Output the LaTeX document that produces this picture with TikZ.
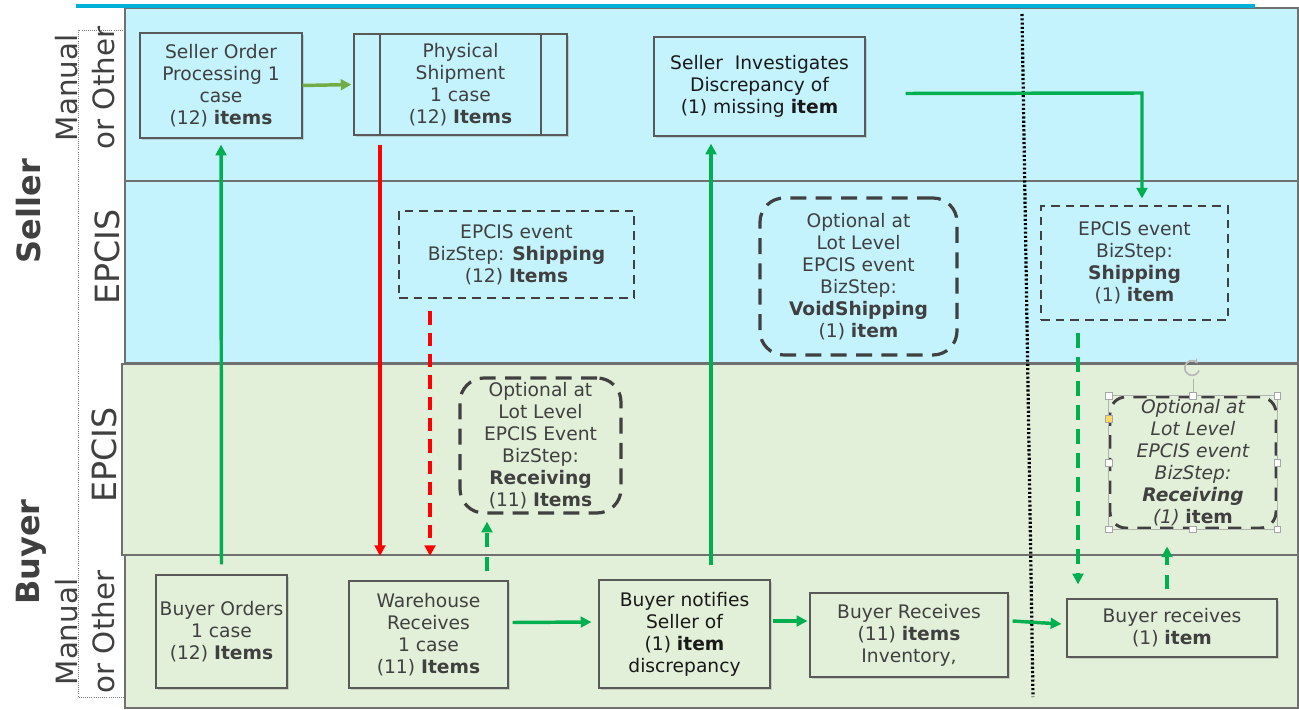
\documentclass[tikz,border=0pt]{standalone}
\usepackage{fontspec}
\setmainfont{DejaVu Sans}
\usetikzlibrary{arrows.meta,shadows}
\definecolor{sellbg}{RGB}{197,243,253}
\definecolor{buybg}{RGB}{227,240,217}
\definecolor{lanegray}{RGB}{112,112,112}
\definecolor{boxgray}{RGB}{89,89,89}
\definecolor{topline}{RGB}{0,176,216}
\definecolor{txt}{RGB}{64,64,64}
\definecolor{dtxt}{RGB}{25,25,25}
\definecolor{gr}{RGB}{0,176,80}
\definecolor{olivegr}{RGB}{112,173,71}
\definecolor{dashgray}{RGB}{64,64,64}
\definecolor{handleyellow}{RGB}{255,217,102}
\begin{document}
\begin{tikzpicture}[x=0.75pt,y=-0.75pt,
  font=\fontsize{14}{16.5}\selectfont,
  box/.style={draw=boxgray, line width=0.9pt, inner sep=0pt, align=center, text=txt,
    drop shadow={shadow xshift=1.5pt,shadow yshift=-1.5pt,opacity=0.3}},
  sbox/.style={box, fill=sellbg},
  bbox/.style={box, fill=buybg},
  dbox/.style={draw=dashgray, line width=2.2pt, dash pattern=on 6.5pt off 4.5pt, inner sep=0pt, align=center, text=txt},
  rbox/.style={dbox, rounded corners=18pt, line width=2.4pt, dash pattern=on 12pt off 7pt},
  rboxi/.style={dbox, rounded corners=12pt, line width=2.2pt, dash pattern=on 10pt off 7pt, font=\fontsize{14}{16.5}\selectfont\itshape},
  garrow/.style={draw=gr, line width=2.6pt, -{Triangle[length=8pt,width=8pt]}},
  oarrow/.style={draw=olivegr, line width=2.6pt, -{Triangle[length=8pt,width=8pt]}},
  gdash/.style={garrow, dash pattern=on 11pt off 7pt},
  rarrow/.style={draw=red, line width=2.6pt, -{Triangle[length=8pt,width=8pt]}},
  rdash/.style={rarrow, dash pattern=on 10pt off 6pt},
  lanelbl/.style={rotate=90, align=center, text=txt},
  handle/.style={draw=gray!70, fill=white, line width=0.5pt, minimum size=5pt, inner sep=0pt}
]
\useasboundingbox (0,0) rectangle (1299,710);
% lanes
\fill[sellbg] (125,8) rectangle (1298,363);
\draw[lanegray, line width=0.8pt] (125,8) rectangle (1298,181);
\draw[lanegray, line width=0.8pt] (125,181) rectangle (1298,363);
\fill[buybg] (122,364) rectangle (1298,555);
\draw[lanegray, line width=0.8pt] (122,364) rectangle (1298,555);
\fill[buybg] (125,555) rectangle (1298,708);
\draw[lanegray, line width=0.8pt] (125,555) rectangle (1298,708);
\draw[lanegray, line width=1.5pt] (125,708) -- (1298,708);
\draw[topline, line width=3pt] (76,6.5) -- (1255,6.5);
\draw[gray, densely dotted, line width=0.6pt] (125,30) -- (78,30) -- (78,697) -- (125,697);
% lane labels
\node[lanelbl, font=\fontsize{24}{28}\selectfont\bfseries] (lseller) at (29,211) {Seller};
\node[lanelbl, font=\fontsize{24}{28}\selectfont\bfseries] (lbuyer) at (31,552) {Buyer};
\node[lanelbl, font=\fontsize{22}{28}\selectfont] (lsm) at (85,88) {Manual\\or Other};
\node[lanelbl, font=\fontsize{22}{28}\selectfont] (lbm) at (85,632) {Manual\\or Other};
\node[lanelbl, font=\fontsize{25}{28}\selectfont] (lse) at (107,257) {EPCIS};
\node[lanelbl, font=\fontsize{25}{28}\selectfont] (lbe) at (104,455) {EPCIS};
% divider
\draw[black, line width=2.4pt, dash pattern=on 1.6pt off 1.6pt] (1022,14) -- (1033,697);
% nodes
\node[sbox, minimum width=121.5pt, minimum height=78.75pt] (so) at (221,85.5) {Seller Order\\Processing 1\\case\\(12) \textbf{items}};
\node[sbox, minimum width=159.75pt, minimum height=75.75pt] (ps) at (460.5,84.5) {Physical\\Shipment\\1 case\\(12) \textbf{Items}};
\coordinate (x380) at (380,0);
\coordinate (x541) at (541,0);
\draw[boxgray, line width=0.9pt] (ps.north -| x380) -- (ps.south -| x380);
\draw[boxgray, line width=0.9pt] (ps.north -| x541) -- (ps.south -| x541);
\node[sbox, text=dtxt, minimum width=158.25pt, minimum height=74.25pt] (si) at (759.5,86.5) {Seller\ \ Investigates\\Discrepancy of\\(1) missing \textbf{item}};
\node[dbox, minimum width=176.25pt, minimum height=65.25pt] (es12) at (516.5,254.5) {EPCIS event\\BizStep: \textbf{Shipping}\\(12) \textbf{Items}};
\node[rbox, minimum width=147.75pt, minimum height=117.75pt] (vs) at (858.5,276.5) {Optional at\\Lot Level\\EPCIS event\\BizStep:\\\textbf{VoidShipping}\\(1) \textbf{item}};
\node[dbox, minimum width=140.25pt, minimum height=85.5pt] (es1) at (1134.5,263) {EPCIS event\\BizStep:\\\textbf{Shipping}\\(1) \textbf{item}};
\node[rbox, minimum width=120.75pt, minimum height=101.25pt] (rc11) at (540.5,445.5) {Optional at\\Lot Level\\EPCIS Event\\BizStep:\\\textbf{Receiving}\\(11) \textbf{Items}};
\node[rboxi, minimum width=124.5pt, minimum height=98.25pt] (rc1) at (1193,462.5) {Optional at\\Lot Level\\EPCIS event\\BizStep:\\\textbf{Receiving}\\(1) \textbf{\upshape item}};
\node[bbox, minimum width=98.25pt, minimum height=84.75pt] (bo) at (221.5,631.5) {Buyer Orders\\1 case\\(12) \textbf{Items}};
\node[bbox, minimum width=119.25pt, minimum height=80.25pt] (wr) at (428.5,634.5) {Warehouse\\Receives\\1 case\\(11) \textbf{Items}};
\node[bbox, text=dtxt, minimum width=128.25pt, minimum height=81pt] (bn) at (684.5,634) {Buyer notifies\\Seller of\\(1) \textbf{item}\\discrepancy};
\node[bbox, minimum width=148.5pt, minimum height=63pt] (br) at (909,635) {Buyer Receives\\(11) \textbf{items}\\Inventory,};
\node[bbox, minimum width=157.5pt, minimum height=43.5pt] (br1) at (1172,628) {Buyer receives\\(1) \textbf{item}};
% selection overlay on rc1
\draw[gray!60, line width=0.6pt] (rc1.north west) rectangle (rc1.south east);
\draw[gray!60, line width=0.6pt] (rc1.north) -- ++(0,-17);
\draw[gray!55, line width=1.3pt, -{Stealth[length=3.5pt,width=4pt]}] ([shift={(6,-25)}]rc1.north) arc[start angle=-20, end angle=-320, radius=5.5pt];
\foreach \a in {north west,north,north east,west,east,south west,south,south east}
  \node[handle] (h-\a) at (rc1.\a) {};
\node[handle, fill=handleyellow] (hy) at ([yshift=-17.25pt]rc1.north west) {};
% connectors
\coordinate (r1) at (380,556);
\coordinate (r2) at (430,556);
\coordinate (g487) at (487,0);
\coordinate (g711) at (711,0);
\coordinate (g1142) at (1142,93);
\coordinate (g1078) at (1078,0);
\coordinate (g1167) at (1167,0);
\draw[oarrow, shorten >=1.5pt] (so.east) -- (ps.west);
\draw[garrow, shorten <=7.5pt, shorten >=4.5pt] (bo.north) -- (so.south);
\draw[rarrow, shorten <=6.75pt] (ps.south -| r1) -- (r1);
\draw[rdash, shorten <=9pt] (es12.south -| r2) -- (r2);
\draw[gdash, shorten <=6.75pt, shorten >=5.25pt] (wr.north -| g487) -- (rc11.south -| g487);
\draw[garrow, shorten <=10.5pt, shorten >=5.25pt] (bn.north -| g711) -- (si.south -| g711);
\draw[garrow, shorten >=4.5pt] ([shift={(40,7)}]si.east) -- (g1142) -- (es1.north -| g1142);
\draw[gdash, shorten <=9pt, shorten >=10.5pt] (es1.south -| g1078) -- (br1.north -| g1078);
\draw[gdash, shorten <=6.75pt, shorten >=12.75pt] (br1.north -| g1167) -- (rc1.south -| g1167);
\draw[garrow] ([shift={(4,-12)}]wr.east) -- ([shift={(-7,-12)}]bn.west);
\draw[garrow] ([shift={(2,-13)}]bn.east) -- ([shift={(-2,-14)}]br.west);
\draw[garrow] ([shift={(4,-14)}]br.east) -- ([shift={(-5,-4)}]br1.west);
\end{tikzpicture}
\end{document}
